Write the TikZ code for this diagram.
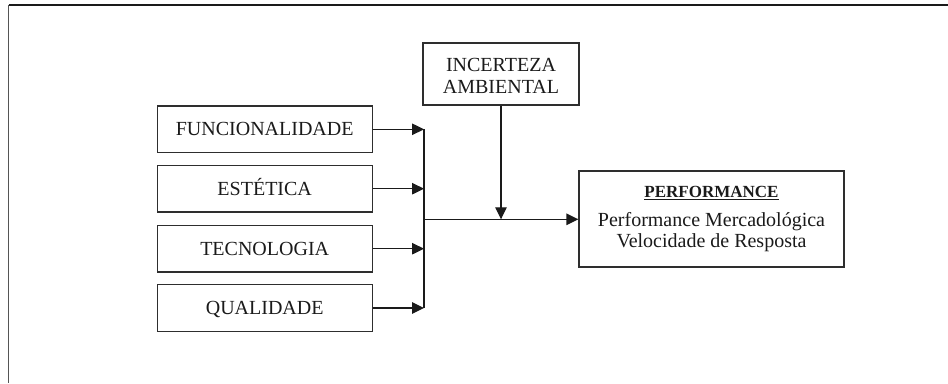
\documentclass[tikz,border=0pt]{standalone}
\usepackage{fontspec}
\setmainfont{Liberation Serif}
\usetikzlibrary{arrows.meta}
\definecolor{ink}{HTML}{1A1A1A}
\definecolor{edge}{HTML}{2E2E2E}
\definecolor{frameleft}{HTML}{555555}
\tikzset{
  factor/.style={draw=edge, line width=1.2pt, minimum width=215pt, minimum height=46.5pt,
    inner sep=0pt, text height=13.2pt, text depth=0pt, text=ink,
    font=\fontsize{20}{22}\selectfont},
  plainbox/.style={draw=edge, line width=1.2pt, inner sep=0pt},
  boxtext/.style={text=ink, inner sep=0pt, align=center},
  link/.style={draw=ink, line width=1.2pt},
  arr/.style={link, -{Triangle[length=12pt,width=11.5pt]}}
}
\begin{document}
\begin{tikzpicture}[x=1pt,y=-1pt]
  \useasboundingbox (0,0) rectangle (948,383);
  % outer frame: top rule and left rule only
  \draw[ink, line width=1.3pt] (8.5,5) -- (948,5);
  \draw[frameleft, line width=1.8pt] (8.5,5) -- (8.5,383);

  % the four product factors
  \node[factor] (f) at (264.7,129.3) {FUNCIONALIDADE};
  \node[factor] (e) at (264.7,188.7) {ESTÉTICA};
  \node[factor] (t) at (264.7,248.7) {TECNOLOGIA};
  \node[factor] (q) at (264.7,308)   {QUALIDADE};

  % moderator
  \node[plainbox, minimum width=156pt, minimum height=62pt] (inc) at (501,74) {};
  \node[boxtext, font=\fontsize{20}{21.6}\selectfont] (inctext) at (501,76.2) {INCERTEZA\\AMBIENTAL};

  % outcome
  \node[plainbox, minimum width=265pt, minimum height=96pt] (perf) at (711.5,219) {};
  \node[boxtext, anchor=base, font=\fontsize{17}{20}\selectfont\bfseries] (perftitle) at (711.5,197.7) {\underline{PERFORMANCE}};
  \node[boxtext, anchor=base, font=\fontsize{20}{22}\selectfont] (perfa) at (711.5,226.7) {Performance Mercadológica};
  \node[boxtext, anchor=base, font=\fontsize{20}{22}\selectfont] (perfb) at (711.5,247.3) {Velocidade de Resposta};

  % collecting bus and junction
  \coordinate (bus) at (424,0);
  \coordinate (j) at (424,219.3);

  \draw[arr] (f.east) -- (f.east -| bus);
  \draw[arr] (e.east) -- (e.east -| bus);
  \draw[arr] (t.east) -- (t.east -| bus);
  \draw[arr] (q.east) -- (q.east -| bus);
  \draw[link] (f.east -| bus) -- (q.east -| bus);

  \draw[arr] (j) -- (perf.west |- j);
  \draw[arr] (inc.south) -- (inc.south |- j);
\end{tikzpicture}
\end{document}
